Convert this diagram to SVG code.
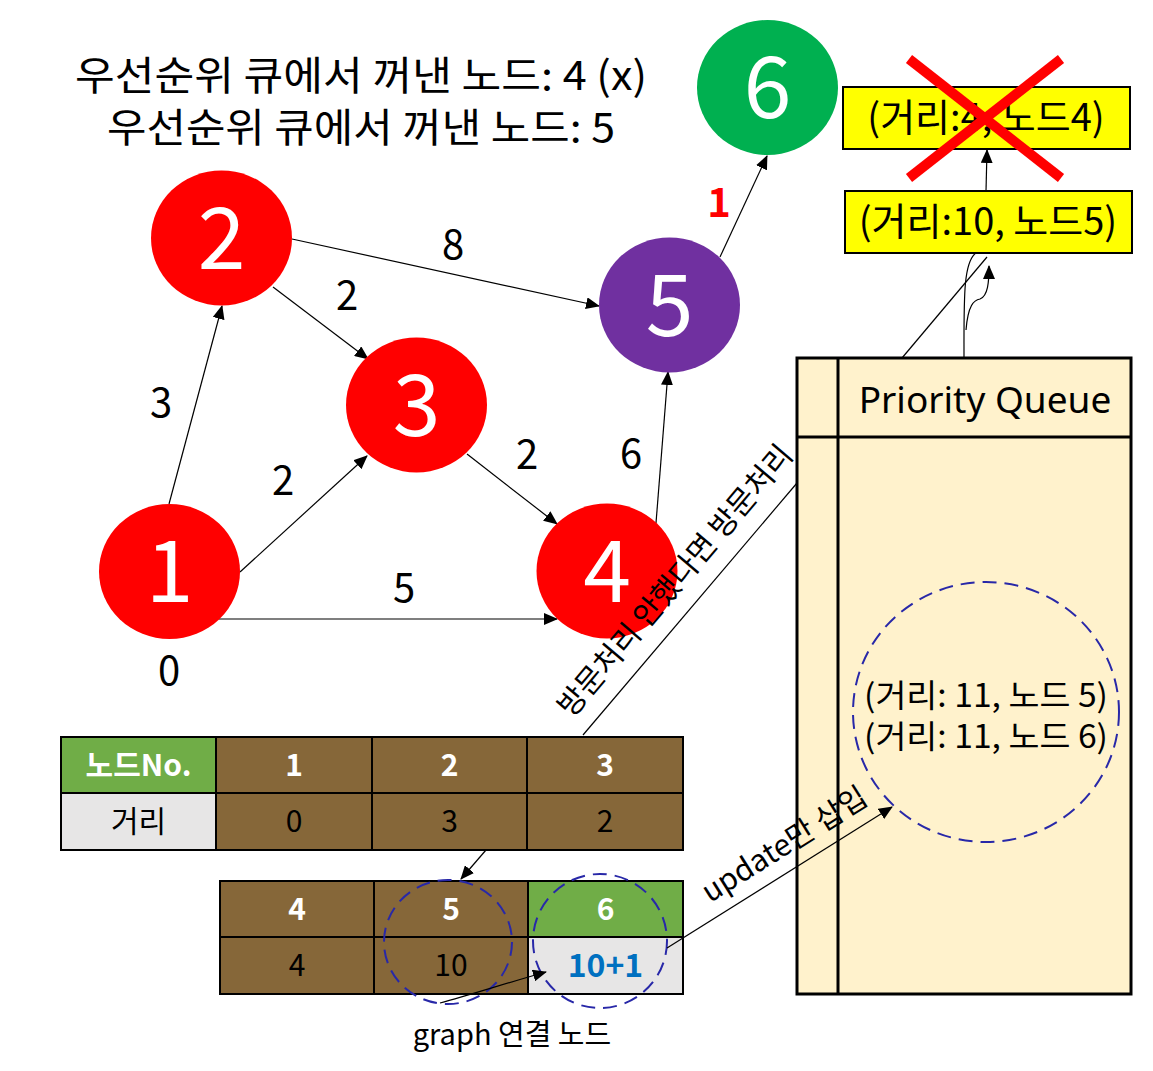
<svg xmlns="http://www.w3.org/2000/svg" width="1153" height="1071" viewBox="0 0 1153 1071">
<style>
text{font-family:"Noto Sans CJK KR","Noto Sans",sans-serif;}
.nd{fill:#fff;font-size:86px;text-anchor:middle;}
.lb{fill:#000;font-size:40px;text-anchor:middle;}
.ttl{fill:#000;font-size:40px;text-anchor:middle;}
.ln{stroke:#000;stroke-width:1.2;fill:none;}
.cell{stroke:#000;stroke-width:2;}
.br{fill:#866739;}
.gr{fill:#70AD47;}
.lg{fill:#E7E6E6;}
.th{fill:#fff;font-size:30px;font-weight:bold;text-anchor:middle;}
.td{fill:#000;font-size:30px;text-anchor:middle;}
.dash{fill:none;stroke:#2828A8;stroke-width:2;stroke-dasharray:14 8;}
.yb{fill:#FFFF00;stroke:#000;stroke-width:2;}
.yt{fill:#000;font-size:38px;text-anchor:middle;}
</style>
<defs>
<marker id="ah" markerUnits="userSpaceOnUse" markerWidth="14" markerHeight="12" refX="13" refY="6" orient="auto">
<path d="M0,0 L14,6 L0,12 Z" fill="#000"/>
</marker>
</defs>

<g id="title">
<text class="ttl" x="361" y="90" textLength="572" lengthAdjust="spacingAndGlyphs">우선순위 큐에서 꺼낸 노드: 4 (x)</text>
<text class="ttl" x="361" y="142" textLength="508" lengthAdjust="spacingAndGlyphs">우선순위 큐에서 꺼낸 노드: 5</text>
</g>

<g id="connectors">
<line class="ln" x1="169" y1="504" x2="222" y2="306" marker-end="url(#ah)"/>
<line class="ln" x1="240" y1="572" x2="367" y2="456" marker-end="url(#ah)"/>
<line class="ln" x1="219" y1="619" x2="557" y2="619" marker-end="url(#ah)"/>
<line class="ln" x1="273" y1="287" x2="368" y2="359" marker-end="url(#ah)"/>
<line class="ln" x1="292" y1="239" x2="599" y2="306" marker-end="url(#ah)"/>
<line class="ln" x1="467" y1="454" x2="557" y2="524" marker-end="url(#ah)"/>
<line class="ln" x1="656" y1="523" x2="668" y2="372" marker-end="url(#ah)"/>
<line class="ln" x1="720" y1="257" x2="767" y2="156" marker-end="url(#ah)"/>
<line class="ln" x1="986" y1="191" x2="987" y2="150" marker-end="url(#ah)"/>
<line class="ln" x1="902" y1="358" x2="987" y2="257"/>
<path class="ln" d="M964,358 C964,300 963,262 976,253"/>
<path class="ln" d="M966,330 C968,305 974,300 980,299 C988,296 989,282 989,266" marker-end="url(#ah)"/>
</g>

<g id="node1"><ellipse cx="169.5" cy="571.5" rx="70.5" ry="67.5" fill="#FF0000"/><text class="nd" x="169.5" y="602">1</text></g>
<g id="node2"><ellipse cx="221.5" cy="238" rx="70.5" ry="67.5" fill="#FF0000"/><text class="nd" x="221.5" y="269">2</text></g>
<g id="node3"><ellipse cx="416.5" cy="405" rx="70.5" ry="67.5" fill="#FF0000"/><text class="nd" x="416.5" y="436">3</text></g>
<g id="node4"><ellipse cx="607" cy="571" rx="70.5" ry="67.5" fill="#FF0000"/><text class="nd" x="607" y="602">4</text></g>
<g id="node5"><ellipse cx="669.5" cy="305" rx="70.5" ry="67.5" fill="#7030A0"/><text class="nd" x="669.5" y="336">5</text></g>
<g id="node6"><ellipse cx="767.5" cy="87.5" rx="70.5" ry="67.5" fill="#00B050"/><text class="nd" x="767.5" y="118">6</text></g>

<g id="edge-labels">
<text class="lb" x="453" y="259">8</text>
<text class="lb" x="347" y="310">2</text>
<text class="lb" x="161" y="417">3</text>
<text class="lb" x="283" y="495">2</text>
<text class="lb" x="527" y="469">2</text>
<text class="lb" x="631" y="468">6</text>
<text class="lb" x="404" y="602">5</text>
<text class="lb" x="169" y="685">0</text>
<text class="lb" x="719" y="217" style="fill:#FF0000;font-weight:bold">1</text>
</g>

<g id="queue-items">
<rect class="yb" x="843" y="87" width="287" height="62"/>
<text class="yt" x="986" y="131">(거리:4, 노드4)</text>
<rect class="yb" x="845" y="191" width="287" height="62"/>
<text class="yt" x="988" y="235">(거리:10, 노드5)</text>
<line x1="909" y1="59" x2="1061" y2="178" stroke="#FF0000" stroke-width="10"/>
<line x1="1061" y1="59" x2="909" y2="178" stroke="#FF0000" stroke-width="10"/>
</g>

<g id="priority-queue">
<rect x="797" y="358" width="334" height="636" fill="#FFF2CC" stroke="#000" stroke-width="3"/>
<line x1="838" y1="358" x2="838" y2="994" stroke="#000" stroke-width="3"/>
<line x1="797" y1="437" x2="1131" y2="437" stroke="#000" stroke-width="3"/>
<text x="985" y="413" style="font-family:'Noto Sans',sans-serif;font-size:37px;text-anchor:middle;fill:#000">Priority Queue</text>
<ellipse class="dash" cx="986" cy="712" rx="133" ry="130"/>
<text class="td" x="986" y="707" textLength="244" lengthAdjust="spacingAndGlyphs" style="font-size:32px">(거리: 11, 노드 5)</text>
<text class="td" x="986" y="748" textLength="244" lengthAdjust="spacingAndGlyphs" style="font-size:32px">(거리: 11, 노드 6)</text>
</g>

<g id="table1">
<rect class="cell gr" x="61" y="737" width="155" height="56"/>
<rect class="cell br" x="216" y="737" width="156" height="56"/>
<rect class="cell br" x="372" y="737" width="155" height="56"/>
<rect class="cell br" x="527" y="737" width="156" height="56"/>
<rect class="cell lg" x="61" y="793" width="155" height="57"/>
<rect class="cell br" x="216" y="793" width="156" height="57"/>
<rect class="cell br" x="372" y="793" width="155" height="57"/>
<rect class="cell br" x="527" y="793" width="156" height="57"/>
<text class="th" x="138.5" y="776">노드No.</text>
<text class="th" x="294" y="776">1</text>
<text class="th" x="449.5" y="776">2</text>
<text class="th" x="605" y="776">3</text>
<text class="td" x="138.5" y="832">거리</text>
<text class="td" x="294" y="832">0</text>
<text class="td" x="449.5" y="832">3</text>
<text class="td" x="605" y="832">2</text>
</g>

<g id="table2">
<rect class="cell br" x="220" y="881" width="154" height="56"/>
<rect class="cell br" x="374" y="881" width="154" height="56"/>
<rect class="cell gr" x="528" y="881" width="155" height="56"/>
<rect class="cell br" x="220" y="937" width="154" height="57"/>
<rect class="cell br" x="374" y="937" width="154" height="57"/>
<rect class="cell lg" x="528" y="937" width="155" height="57"/>
<text class="th" x="297" y="920">4</text>
<text class="th" x="451" y="920">5</text>
<text class="th" x="605.5" y="920">6</text>
<text class="td" x="297" y="976">4</text>
<text class="td" x="451" y="976">10</text>
<text class="td" x="605.5" y="977" style="fill:#0070C0;font-weight:bold;font-size:32px">10+1</text>
<ellipse class="dash" cx="448" cy="942" rx="64" ry="62"/>
<ellipse class="dash" cx="600" cy="941" rx="67" ry="67"/>
</g>

<g id="annotations">
<line class="ln" x1="486" y1="850" x2="461" y2="879" marker-end="url(#ah)"/>
<path class="ln" d="M440,1003 C470,995 510,982 546,972" marker-end="url(#ah)"/>
<text class="td" x="512" y="1045" style="font-size:29px">graph 연결 노드</text>
<line class="ln" x1="583" y1="735" x2="797" y2="483"/>
<text x="673" y="579" transform="rotate(-49.7 673 579)" dominant-baseline="central" style="font-size:30px;text-anchor:middle;fill:#000">방문처리 안했다면 방문처리</text>
<line class="ln" x1="667" y1="948" x2="892" y2="807" marker-end="url(#ah)"/>
<text x="783" y="842" transform="rotate(-32.1 783 842)" dominant-baseline="central" style="font-size:30px;text-anchor:middle;fill:#000">update만 삽입</text>
</g>
</svg>
